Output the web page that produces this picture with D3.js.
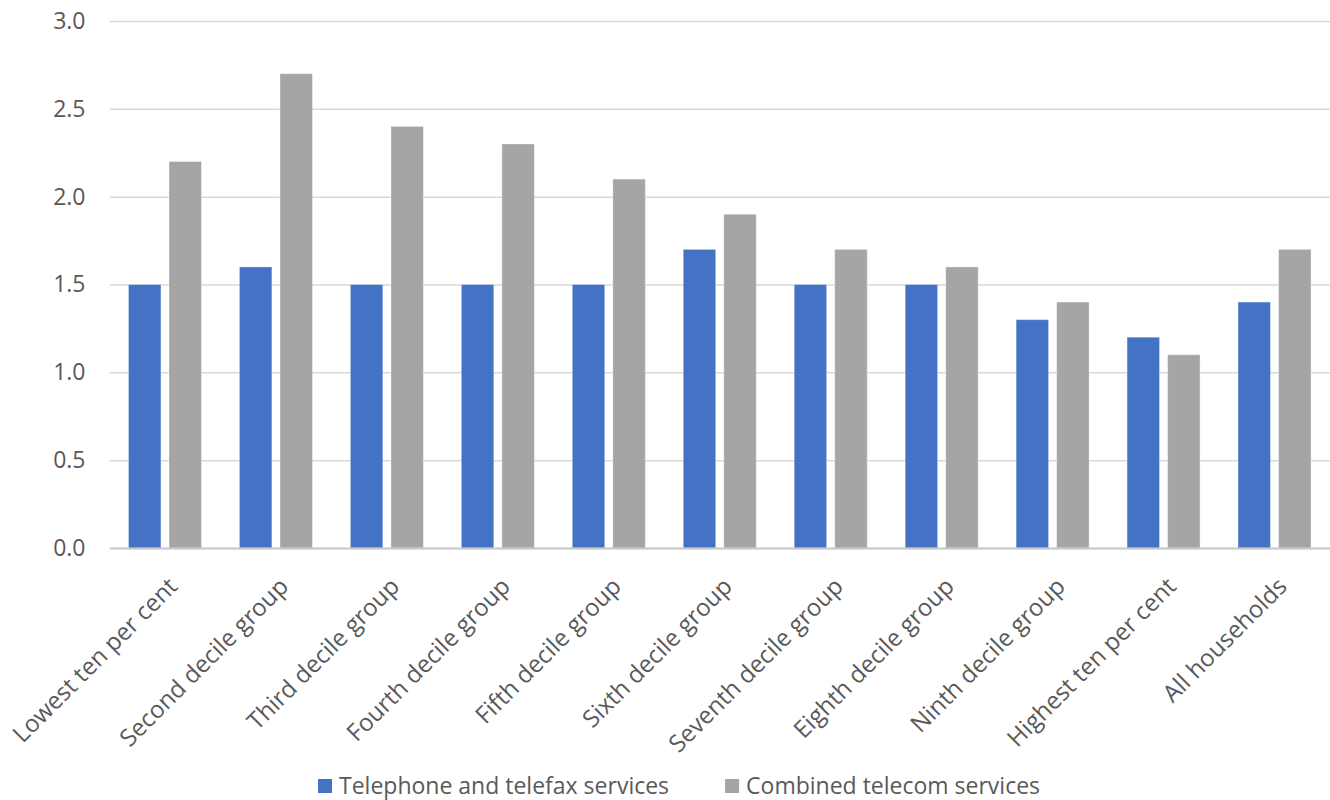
<!DOCTYPE html>
<html>
<head>
<meta charset="utf-8">
<script src="https://cdn.jsdelivr.net/npm/d3@7"></script>
<style>
  html, body { margin: 0; padding: 0; background: #ffffff; }
  svg { display: block; font-family: "Open Sans", "Noto Sans", sans-serif; }
</style>
</head>
<body>
<svg id="chart" width="1330" height="800"></svg>
<script>
// Household decile groups along the x axis
const categories = [
  "Lowest ten per cent", "Second decile group", "Third decile group",
  "Fourth decile group", "Fifth decile group", "Sixth decile group",
  "Seventh decile group", "Eighth decile group", "Ninth decile group",
  "Highest ten per cent", "All households"
];
const seriesNames = ["Telephone and telefax services", "Combined telecom services"];
const telephoneValues = [1.5, 1.6, 1.5, 1.5, 1.5, 1.7, 1.5, 1.5, 1.3, 1.2, 1.4];
const combinedValues  = [2.2, 2.7, 2.4, 2.3, 2.1, 1.9, 1.7, 1.6, 1.4, 1.1, 1.7];
const yTicks = [0, 0.5, 1.0, 1.5, 2.0, 2.5, 3.0];
const seriesColors = ["#4472C4", "#A5A5A5"];

const seriesValues = [telephoneValues, combinedValues];

const svg = d3.select("#chart");
const plot = { left: 109.5, right: 1330, top: 21, bottom: 548 };
const textColor = "#595959";

const y = d3.scaleLinear().domain([0, 3]).range([plot.bottom, plot.top]);

const x0 = d3.scaleBand()
  .domain(categories)
  .range([plot.left, plot.right])
  .paddingInner(0.342)
  .paddingOuter(0.171);

const x1 = d3.scaleBand()
  .domain(seriesNames)
  .range([0, x0.bandwidth()])
  .paddingInner(0.2)
  .paddingOuter(0);

// Horizontal gridlines
const yAxis = d3.axisLeft(y)
  .tickValues(yTicks)
  .tickFormat(d3.format(".1f"))
  .tickSize(-(plot.right - plot.left))
  .tickPadding(24);

const gy = svg.append("g")
  .attr("transform", `translate(${plot.left},0)`)
  .call(yAxis);
gy.select(".domain").remove();
gy.selectAll(".tick line")
  .attr("stroke", "#d9d9d9")
  .attr("stroke-width", 1.5);
gy.selectAll(".tick text")
  .attr("fill", textColor)
  .attr("font-size", 23)
  .attr("font-family", "'Open Sans', sans-serif");

// Bars
const groups = svg.append("g")
  .selectAll("g")
  .data(categories)
  .join("g")
  .attr("transform", d => `translate(${x0(d)},0)`);

groups.selectAll("rect")
  .data((d, i) => seriesNames.map((s, j) => ({ series: s, value: seriesValues[j][i], color: seriesColors[j] })))
  .join("rect")
  .attr("x", d => x1(d.series))
  .attr("width", x1.bandwidth())
  .attr("y", d => y(d.value))
  .attr("height", d => y(0) - y(d.value))
  .attr("fill", d => d.color)
  .attr("stroke", "#ffffff")
  .attr("stroke-opacity", 0.35)
  .attr("stroke-width", 1);

// Category axis baseline
const xAxis = d3.axisBottom(x0).tickSize(0).tickFormat("");
const gx = svg.append("g")
  .attr("transform", `translate(0,${plot.bottom})`)
  .call(xAxis);
gx.select(".domain")
  .attr("stroke", "#c8c8c8")
  .attr("stroke-width", 2);

// Rotated category labels
svg.append("g")
  .selectAll("text")
  .data(categories)
  .join("text")
  .attr("transform", d => `translate(${x0(d) + x0.bandwidth() / 2 + 1},575) rotate(-45)`)
  .attr("text-anchor", "end")
  .attr("dy", "0.76em")
  .attr("fill", textColor)
  .attr("font-size", 24)
  .text(d => d);

// Legend
const legend = svg.append("g");
const items = legend.selectAll("g")
  .data(seriesNames)
  .join("g");
items.append("rect")
  .attr("width", 14)
  .attr("height", 14)
  .attr("y", 779)
  .attr("fill", (d, i) => seriesColors[i]);
items.append("text")
  .attr("x", 21)
  .attr("y", 794)
  .attr("fill", textColor)
  .attr("font-size", 23)
  .text(d => d);

let widths = [];
items.each(function () { widths.push(this.getBBox().width); });
const itemGap = 56;
let cursor = 318;
items.attr("transform", (d, i) => {
  const tx = cursor;
  cursor += widths[i] + itemGap;
  return `translate(${tx},0)`;
});
</script>
</body>
</html>
